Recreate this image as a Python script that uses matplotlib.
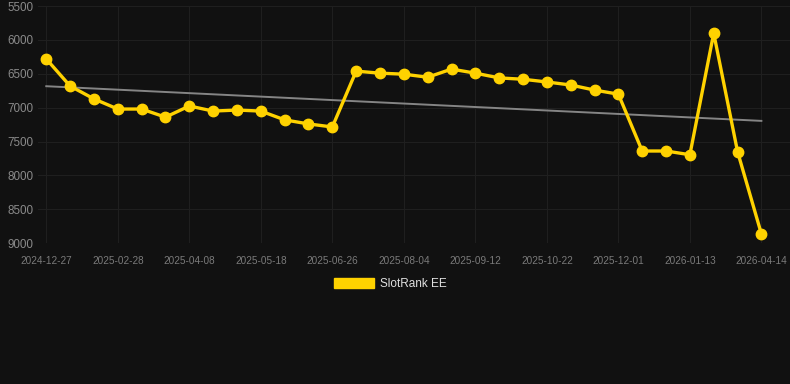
import matplotlib
matplotlib.use("Agg")
import matplotlib.pyplot as plt
import numpy as np

# Data (category axis, evenly spaced points)
tick_labels = ["2024-12-27", "2025-02-28", "2025-04-08", "2025-05-18", "2025-06-26",
               "2025-08-04", "2025-09-12", "2025-10-22", "2025-12-01", "2026-01-13",
               "2026-04-14"]
ranks = [6280, 6680, 6870, 7020, 7020, 7140, 6975, 7050, 7035, 7050,
         7180, 7240, 7285, 6460, 6490, 6505, 6550, 6430, 6490, 6560,
         6580, 6620, 6665, 6740, 6800, 7640, 7640, 7695, 5900, 7650,
         8865]
series_name = "SlotRank EE"

bg = "#111111"
plt.rcParams['font.family'] = ['Liberation Sans', 'DejaVu Sans']

fig = plt.figure(figsize=(7.9, 3.84), dpi=100, facecolor=bg)
ax = fig.add_axes([0.048, 0.367, 0.952, 0.617], facecolor=bg)

x = np.arange(len(ranks))
y = np.array(ranks, dtype=float)

# Trend line (linear regression)
k, b = np.polyfit(x, y, 1)
ax.plot([x[0], x[-1]], [k * x[0] + b, k * x[-1] + b], color="#858585", lw=1.4, zorder=2)

ax.plot(x, y, color="#FFD200", lw=2.4, marker="o", markersize=7.5,
        solid_joinstyle="miter", zorder=3, label=series_name)

ax.set_ylim(9000, 5500)
ax.set_yticks([5500, 6000, 6500, 7000, 7500, 8000, 8500, 9000])
ax.set_xlim(-0.35, 31.2)
ax.set_xticks(x[::3])
ax.set_xticklabels(tick_labels)

ax.grid(True, color="#1f1f1f", lw=0.8)
ax.set_axisbelow(True)
for s in ax.spines.values():
    s.set_visible(False)
ax.tick_params(axis="both", length=0)
ax.tick_params(axis="x", colors="#7a7a7a", labelsize=7.2, pad=9)
ax.tick_params(axis="y", colors="#8a8a8a", labelsize=8.4, pad=3)

leg = fig.legend(handles=[plt.Rectangle((0, 0), 1, 1, color="#FFD200")], labels=[series_name],
                 loc="center", bbox_to_anchor=(390 / 790, 1 - 284 / 384), frameon=False,
                 handlelength=3.4, handleheight=1.0, handletextpad=0.5, fontsize=8.5)
for t in leg.get_texts():
    t.set_color("#e0e0e0")

fig.savefig("out.png", dpi=100, facecolor=bg)
